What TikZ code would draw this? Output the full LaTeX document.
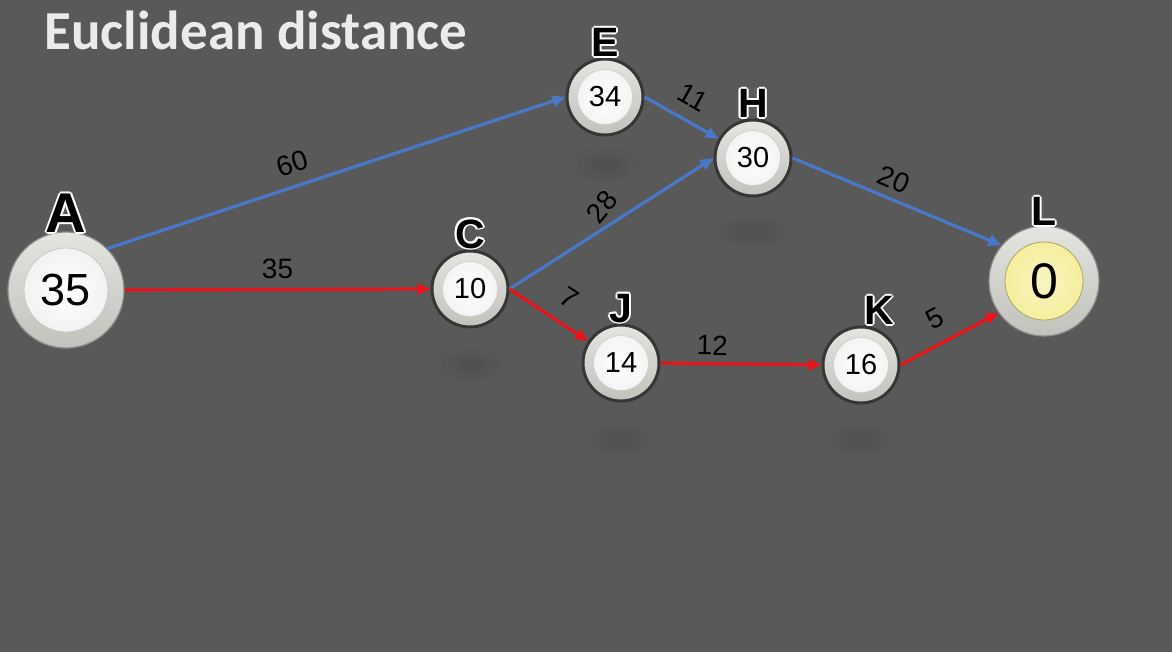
\documentclass[tikz,border=0pt]{standalone}
\usepackage{fontspec}
\setmainfont{Liberation Sans}
\newfontfamily\titlefont{Carlito}
\usetikzlibrary{arrows.meta}
\definecolor{bgray}{HTML}{595959}
\definecolor{edgeblue}{HTML}{4A78C8}
\definecolor{edgered}{HTML}{E8141B}
\definecolor{ringlight}{HTML}{E4E4E0}
\definecolor{ringmid}{HTML}{C2C2BC}
\definecolor{ringdark}{HTML}{363636}
\definecolor{goalyellow}{HTML}{F3EC8E}
% black letter with a white rim
\newcommand{\rimtext}[1]{\leavevmode\rlap{\color{white}%
  \rlap{\kern1.8pt#1}\rlap{\kern-1.8pt#1}\rlap{\raisebox{1.8pt}{#1}}\rlap{\raisebox{-1.8pt}{#1}}%
  \rlap{\kern1.3pt\raisebox{1.3pt}{#1}}\rlap{\kern-1.3pt\raisebox{1.3pt}{#1}}%
  \rlap{\kern1.3pt\raisebox{-1.3pt}{#1}}\rlap{\kern-1.3pt\raisebox{-1.3pt}{#1}}}#1}
\begin{document}
\begin{tikzpicture}[x=1pt, y=-1pt, line join=round,
    smallnode/.style={circle, minimum size=76pt, inner sep=0pt, top color=ringlight, bottom color=ringmid,
      draw=ringdark, line width=3pt, font=\fontsize{29}{29}\selectfont,
      path picture={\shade[inner color=white, outer color=black!6, draw=black!20, line width=0.6pt]
        (path picture bounding box.center) circle (27.5pt);}},
    bignode/.style={circle, minimum size=116pt, inner sep=0pt, top color=ringlight, bottom color=ringmid,
      draw=black!45, line width=1.2pt, font=\fontsize{45}{45}\selectfont,
      path picture={\shade[inner color=white, outer color=black!7, draw=black!22, line width=0.8pt]
        (path picture bounding box.center) circle (42pt);}},
    goalnode/.style={bignode, minimum size=110pt, font=\fontsize{50}{50}\selectfont,
      path picture={\shade[inner color=goalyellow!55, outer color=goalyellow, draw=goalyellow!70!black, line width=0.8pt]
        (path picture bounding box.center) circle (39pt);}},
    tag/.style={inner sep=0pt, font=\bfseries\fontsize{41}{41}\selectfont},
    bigtag/.style={inner sep=0pt, font=\bfseries\fontsize{56}{56}\selectfont},
    blueedge/.style={edgeblue, line width=3.2pt, -{Triangle[length=13pt,width=11pt]}},
    rededge/.style={edgered, line width=3.2pt, -{Triangle[length=13pt,width=11pt]}},
    lbl/.style={inner sep=0pt, sloped, text=black, font=\fontsize{28}{28}\selectfont}]
  \useasboundingbox[fill=bgray] (0,0) rectangle (1172,652);
  \node[anchor=west, text=black!8, font=\titlefont\bfseries\fontsize{55}{55}\selectfont] (title) at (41,30) {Euclidean distance};
  % faint shadows
  \foreach \sx/\sy in {470/365, 605/165, 753/232, 621/440, 861/440}
    \foreach \k in {1,0.8,0.6,0.4}
      \fill[black, opacity=0.018] (\sx,\sy) ellipse ({34*\k} and {17*\k});
  % nodes
  \node[bignode, label={[bigtag, label distance=-3pt]90:\rimtext{A}}] (A) at (66,290) {35};
  \node[smallnode, label={[tag, label distance=-1pt]90:\rimtext{C}}] (C) at (470,289) {10};
  \node[smallnode, label={[tag, label distance=-1pt]90:\rimtext{E}}] (E) at (605,97) {34};
  \node[smallnode, label={[tag, label distance=-1pt]90:\rimtext{H}}] (H) at (753,158) {30};
  \node[smallnode, label={[tag, label distance=-1pt]90:\rimtext{J}}] (J) at (621,363) {14};
  \node[smallnode, label={[tag, label distance=-1pt]85:\rimtext{K}}] (K) at (861,365) {16};
  \node[goalnode, label={[tag, label distance=-2pt]90:\rimtext{L}}] (L) at (1044,281) {0};
  % edges
  \draw[blueedge] (A.45) -- (E.west) node[lbl, pos=0.42, above=11pt] {60};
  \draw[rededge] (A.east) -- (C.west) node[lbl, pos=0.5, above=9pt] {35};
  \draw[blueedge] (E.east) -- (H) node[lbl, pos=0.5, above=12pt] {11};
  \draw[blueedge] (C.east) -- (H.west) node[lbl, pos=0.52, above=8pt, rotate=18] {28};
  \draw[rededge] (C.east) -- (J) node[lbl, pos=0.58, above=14pt] {7};
  \draw[rededge] (J.east) -- (K.west) node[lbl, pos=0.32, above=7pt] {12};
  \draw[blueedge] (H.east) -- (L.140) node[lbl, pos=0.45, above=8pt] {20};
  \draw[rededge] (K.east) -- (L.215) node[lbl, pos=0.47, above=14pt] {5};
\end{tikzpicture}
\end{document}
